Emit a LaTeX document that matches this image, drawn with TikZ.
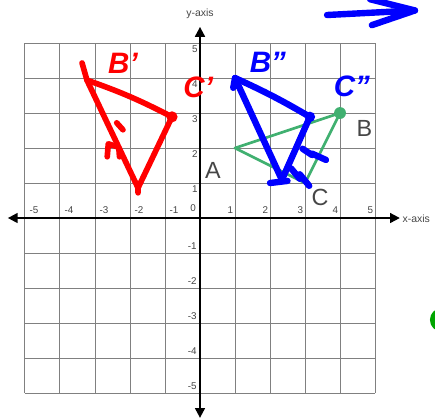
\documentclass[tikz,border=0pt]{standalone}
\usepackage{fontspec}
\setmainfont{Liberation Sans}
\usetikzlibrary{arrows.meta}
\definecolor{gridgray}{RGB}{128,128,128}
\definecolor{labelgray}{RGB}{70,70,70}
\definecolor{triGreen}{RGB}{64,176,112}
\definecolor{dotGreen}{RGB}{0,165,0}
\definecolor{penRed}{RGB}{255,0,0}
\definecolor{penBlue}{RGB}{0,0,255}

\begin{document}
\begin{tikzpicture}[>={Triangle[length=8pt,width=8pt]},
    ticklbl/.style={text=labelgray,font=\fontsize{8}{9}\selectfont,inner sep=0pt},
    vertlbl/.style={text=labelgray,font=\fontsize{19}{22}\selectfont,inner sep=0pt},
    redpen/.style={penRed,line width=4.6pt,line cap=round,line join=round},
    bluepen/.style={penBlue,line width=5.2pt,line cap=round,line join=round},
    handlbl/.style={font=\fontsize{24}{26}\selectfont\bfseries\itshape,inner sep=0pt}]

% Picture frame (keeps the margins)
\useasboundingbox (-5.714,-5.743) rectangle (6.714,6.229);

% Grid
\draw[gridgray,line width=0.8pt] (-5,-5) grid (5,5);

% Axes
\draw[<->,line width=1.6pt] (-5.49,0) -- (5.71,0);
\draw[<->,line width=1.6pt] (0,-5.71) -- (0,5.46);
\node[ticklbl,anchor=west,font=\fontsize{8.5}{9}\selectfont] (xlbl) at (5.78,-0.02) {x-axis};
\node[ticklbl,font=\fontsize{8.5}{9}\selectfont] (ylbl) at (0,5.83) {y-axis};

% Tick labels
\foreach \i in {-5,...,-1} \node[ticklbl] at (\i+0.26,0.22) {\i};
\foreach \i in {1,...,5} \node[ticklbl] at (\i-0.13,0.22) {\i};
\node[ticklbl] (orig) at (-0.2,0.29) {0};
\foreach \i in {1,...,5} \node[ticklbl] at (-0.15,\i-0.17) {\i};
\foreach \i in {-5,...,-1} \node[ticklbl] at (-0.22,\i+0.21) {\i};

% Triangle ABC
\coordinate (A) at (1,2);
\coordinate (B) at (4,3);
\coordinate (C) at (3,1);
\draw[triGreen,line width=2.2pt,line join=round] (A) -- (B) -- (C) -- cycle;
\fill[triGreen] (B) circle (0.17);
\node[vertlbl] (lA) at (0.37,1.37) {A};
\node[vertlbl] (lB) at (4.7,2.57) {B};
\node[vertlbl] (lC) at (3.43,0.6) {C};

% Red image (hand drawn)
\coordinate (B1) at (-3.23,3.94);
\coordinate (C1) at (-0.8,2.89);
\coordinate (A1) at (-1.77,0.86);
\draw[redpen] (-3.37,4.43) -- (B1) -- (A1) -- (-1.77,0.72);
\draw[redpen] (A1) -- (C1);
\draw[redpen] (B1) to[bend left=4] (C1);
\fill[penRed] (C1) circle (0.16);
\draw[redpen] (-2.65,1.75) -- (-2.62,2.12) -- (-2.32,2.02) -- (-2.3,1.75);
\draw[redpen] (-2.38,2.72) -- (-2.2,2.52);
\node[handlbl,penRed] (lB1) at (-2.2,4.42) {B'};
\node[handlbl,penRed] (lC1) at (-0.05,3.72) {C'};

% Blue image (hand drawn)
\coordinate (B2) at (1.0,4.0);
\coordinate (C2) at (3.14,2.89);
\coordinate (A2) at (2.34,1.09);
\draw[bluepen] (0.95,3.72) -- (B2) -- (A2) -- (C2);
\draw[bluepen] (B2) to[bend left=3] (C2);
\fill[penBlue] (C2) circle (0.15);
\draw[bluepen] (2.0,1.0) -- (2.5,1.06);
\draw[bluepen] (2.6,1.42) -- (2.85,1.12);
\draw[bluepen] (2.85,1.25) -- (3.12,0.92);
\draw[bluepen] (2.93,1.98) -- (3.2,1.8);
\draw[bluepen] (3.2,1.84) -- (3.6,1.66);
\node[handlbl,penBlue] (lB2) at (1.94,4.46) {B''};
\node[handlbl,penBlue] (lC2) at (4.34,3.77) {C''};

% Blue arrow at the top
\draw[bluepen] (3.63,5.8) -- (6.14,5.93);
\draw[bluepen] (4.86,6.25) -- (6.14,5.93) -- (4.91,5.51);

% Green dot at the right edge
\fill[dotGreen] (6.91,-2.91) circle (0.34);

\end{tikzpicture}
\end{document}
